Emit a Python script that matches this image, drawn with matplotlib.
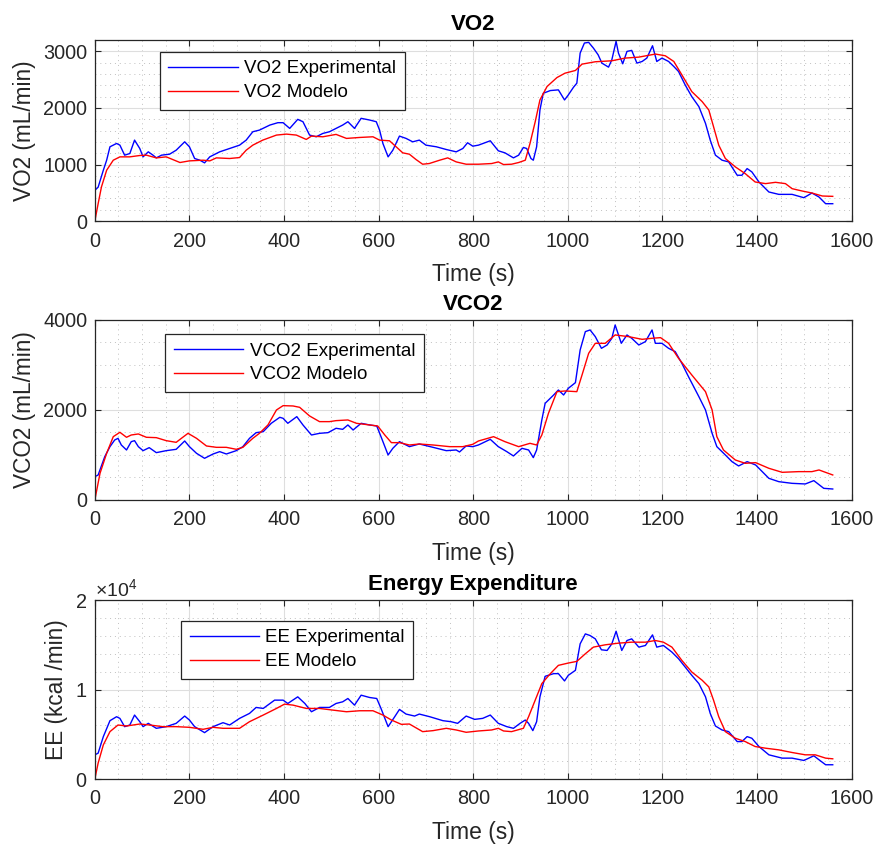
"""
VO2 / VCO2 / EE: experimental vs model, three stacked panels (MATLAB look)
"""
import matplotlib
matplotlib.use('Agg')
import matplotlib.pyplot as plt
from matplotlib.ticker import MultipleLocator, ScalarFormatter

# Dados (tempo em s)
vo2_exp_t = [0, 7, 18, 25, 32, 46, 53, 63, 74, 84, 95, 102, 113, 123, 130, 141, 158, 172, 190, 200,
             211, 222, 232, 243, 264, 285, 306, 320, 334, 348, 370, 387, 398, 412, 429, 440, 454, 468,
             482, 496, 510, 524, 535, 549, 563, 581, 595, 602, 609, 620, 630, 644, 658, 672, 686, 700,
             722, 743, 764, 778, 788, 799, 811, 836, 853, 867, 885, 896, 906, 913, 922, 927, 934, 941,
             948, 963, 980, 993, 1001, 1012, 1019, 1026, 1035, 1044, 1054, 1064, 1072, 1086, 1093,
             1102, 1107, 1116, 1125, 1135, 1146, 1157, 1167, 1179, 1188, 1199, 1213, 1224, 1234, 1248,
             1262, 1277, 1291, 1301, 1312, 1326, 1340, 1358, 1368, 1379, 1389, 1404, 1425, 1446, 1474,
             1499, 1516, 1531, 1545, 1560]
vo2_exp = [544, 600, 900, 1077, 1314, 1373, 1343, 1166, 1195, 1432, 1284, 1136, 1225, 1166, 1118, 1166,
           1183, 1254, 1402, 1314, 1107, 1077, 1030, 1136, 1225, 1284, 1343, 1432, 1580, 1609, 1698,
           1740, 1740, 1639, 1799, 1757, 1521, 1491, 1550, 1580, 1639, 1698, 1757, 1639, 1817, 1787,
           1757, 1609, 1373, 1136, 1254, 1503, 1462, 1402, 1432, 1343, 1314, 1266, 1225, 1284, 1385,
           1325, 1343, 1420, 1243, 1207, 1118, 1166, 1302, 1284, 1107, 1077, 1314, 1964, 2260, 2308,
           2320, 2142, 2231, 2367, 2438, 2970, 3148, 3160, 3059, 2940, 2793, 2722, 2852, 3178, 2970,
           2781, 3000, 3018, 2793, 2822, 2882, 3100, 2822, 2882, 2822, 2734, 2645, 2408, 2201, 2024,
           1728, 1432, 1166, 1077, 1047, 811, 811, 929, 870, 692, 515, 473, 473, 414, 497, 426, 308, 308]

vo2_mod_t = [0, 7, 14, 25, 39, 53, 74, 95, 109, 130, 151, 180, 200, 229, 243, 257, 285, 306, 320, 334,
             355, 384, 405, 426, 447, 458, 482, 510, 532, 560, 588, 602, 623, 637, 651, 665, 679, 693,
             707, 729, 746, 764, 785, 811, 839, 853, 864, 881, 896, 910, 920, 931, 941, 956, 977, 994,
             1016, 1030, 1058, 1093, 1121, 1150, 1185, 1206, 1224, 1241, 1262, 1284, 1298, 1308, 1319,
             1333, 1354, 1375, 1396, 1418, 1439, 1460, 1474, 1495, 1516, 1538, 1560]
vo2_mod = [0, 308, 604, 900, 1077, 1136, 1136, 1160, 1166, 1118, 1136, 1036, 1065, 1077, 1065, 1118,
           1107, 1124, 1254, 1343, 1432, 1521, 1538, 1521, 1444, 1503, 1491, 1533, 1462, 1479, 1491,
           1432, 1420, 1314, 1207, 1183, 1089, 1006, 1018, 1077, 1118, 1047, 1006, 1006, 1018, 1047,
           1000, 1006, 1036, 1077, 1373, 1757, 2142, 2379, 2538, 2615, 2663, 2775, 2817, 2834, 2882,
           2899, 2953, 2923, 2822, 2586, 2290, 2112, 1964, 1669, 1343, 1107, 959, 840, 692, 663, 686,
           663, 574, 533, 497, 444, 438]

vco2_exp_t = [0, 7, 21, 32, 42, 49, 56, 67, 77, 84, 92, 102, 115, 130, 151, 172, 190, 200, 215, 232,
              250, 264, 278, 299, 313, 327, 341, 356, 373, 391, 398, 408, 427, 440, 458, 475, 493, 510,
              524, 535, 546, 563, 581, 596, 605, 620, 630, 644, 665, 686, 715, 743, 764, 771, 785, 799,
              811, 836, 853, 871, 885, 903, 917, 927, 934, 945, 952, 970, 980, 991, 1001, 1016, 1026,
              1037, 1047, 1058, 1071, 1083, 1093, 1100, 1113, 1125, 1135, 1150, 1164, 1178, 1185, 1199,
              1213, 1227, 1241, 1255, 1277, 1291, 1305, 1315, 1333, 1347, 1361, 1379, 1397, 1425, 1446,
              1474, 1502, 1520, 1541, 1560]
vco2_exp = [518, 555, 963, 1185, 1333, 1370, 1222, 1111, 1296, 1318, 1185, 1096, 1163, 1052, 1096, 1126,
            1311, 1185, 1037, 926, 1022, 1074, 1022, 1096, 1185, 1370, 1496, 1518, 1704, 1837, 1815,
            1704, 1852, 1667, 1444, 1481, 1496, 1593, 1570, 1667, 1555, 1704, 1667, 1644, 1407, 1000,
            1148, 1296, 1185, 1244, 1170, 1096, 1111, 1067, 1200, 1185, 1222, 1348, 1185, 1074, 978,
            1148, 1111, 941, 1111, 1778, 2148, 2333, 2444, 2333, 2481, 2607, 3333, 3741, 3778, 3630,
            3370, 3444, 3593, 3889, 3481, 3667, 3593, 3444, 3519, 3778, 3481, 3481, 3370, 3296, 3037,
            2741, 2296, 2000, 1481, 1185, 1000, 852, 756, 852, 778, 481, 407, 370, 356, 430, 259, 244]

vco2_mod_t = [0, 11, 25, 39, 53, 67, 77, 92, 109, 130, 151, 172, 183, 197, 215, 236, 257, 278, 299, 313,
              334, 348, 366, 384, 398, 419, 433, 454, 475, 496, 510, 535, 553, 581, 598, 613, 627, 644,
              665, 686, 715, 750, 778, 799, 811, 843, 867, 896, 920, 934, 945, 959, 977, 994, 1019, 1030,
              1044, 1058, 1079, 1100, 1128, 1157, 1178, 1196, 1213, 1234, 1262, 1291, 1305, 1315, 1329,
              1354, 1375, 1397, 1425, 1453, 1488, 1516, 1531, 1560]
vco2_mod = [0, 593, 1037, 1407, 1504, 1393, 1444, 1467, 1393, 1385, 1318, 1281, 1370, 1481, 1370, 1200,
            1170, 1170, 1126, 1170, 1370, 1481, 1667, 2000, 2096, 2089, 2059, 1867, 1741, 1741, 1763,
            1778, 1704, 1667, 1644, 1444, 1274, 1274, 1222, 1244, 1222, 1185, 1185, 1237, 1311, 1407,
            1296, 1185, 1259, 1222, 1444, 1926, 2407, 2422, 2407, 2778, 3259, 3481, 3481, 3667, 3630,
            3570, 3593, 3607, 3481, 3148, 2778, 2407, 2000, 1407, 1111, 889, 815, 830, 704, 615, 630,
            630, 667, 556]

ee_exp_t = [0, 7, 18, 32, 46, 53, 63, 74, 84, 95, 102, 113, 130, 151, 172, 190, 200, 211, 232, 250, 271,
            285, 306, 327, 341, 356, 380, 398, 408, 429, 444, 458, 475, 496, 510, 524, 535, 549, 563,
            581, 596, 605, 620, 634, 644, 658, 676, 686, 708, 736, 753, 767, 785, 803, 820, 836, 853,
            871, 885, 899, 910, 917, 926, 934, 941, 952, 970, 980, 993, 1001, 1016, 1026, 1037, 1047,
            1058, 1071, 1083, 1093, 1102, 1114, 1125, 1135, 1150, 1164, 1179, 1188, 1202, 1220, 1234,
            1248, 1262, 1277, 1291, 1301, 1312, 1326, 1340, 1358, 1368, 1379, 1389, 1404, 1425, 1453,
            1474, 1499, 1520, 1531, 1545, 1560]
ee_exp = [2704, 2889, 4741, 6519, 6963, 6778, 5852, 6037, 7148, 6407, 5852, 6222, 5667, 5852, 6222,
          7037, 6593, 5852, 5185, 5852, 6296, 6037, 6778, 7333, 8000, 7889, 8815, 8815, 8444, 9185,
          8444, 7519, 8000, 8000, 8444, 8630, 9000, 8259, 9370, 9111, 9000, 7889, 5852, 6963, 7778,
          7259, 7037, 7259, 6963, 6519, 6407, 6222, 7037, 6667, 6778, 7148, 6222, 5852, 5667, 6222,
          6593, 6222, 5407, 6407, 9185, 11481, 11778, 11778, 10963, 11593, 12148, 15111, 16222, 16037,
          15667, 14444, 14370, 15111, 16519, 14370, 15481, 15667, 14741, 14926, 16111, 14741, 14926,
          14185, 13444, 12519, 11593, 10667, 9185, 7333, 5926, 5481, 5296, 4185, 4185, 4741, 4556,
          3630, 2704, 2333, 2333, 2074, 2593, 2148, 1593, 1593]

ee_mod_t = [0, 7, 18, 32, 49, 67, 95, 116, 144, 172, 200, 229, 250, 271, 306, 327, 356, 384, 401, 419,
            447, 475, 503, 532, 560, 588, 609, 627, 648, 665, 693, 715, 743, 764, 785, 811, 839, 853,
            864, 881, 906, 917, 931, 945, 963, 980, 1001, 1019, 1037, 1054, 1079, 1107, 1135, 1164,
            1185, 1202, 1220, 1241, 1262, 1284, 1298, 1308, 1319, 1333, 1354, 1375, 1396, 1418, 1446,
            1474, 1502, 1523, 1545, 1560]
ee_mod = [0, 1778, 3815, 5296, 6037, 5926, 6148, 6037, 5852, 5852, 5778, 5556, 5778, 5667, 5667, 6407,
          7148, 7889, 8370, 8259, 7889, 7889, 7704, 7519, 7630, 7630, 7148, 6593, 6111, 6148, 5296,
          5407, 5667, 5481, 5222, 5370, 5481, 5667, 5370, 5296, 5667, 6963, 8815, 10667, 11778, 12704,
          12963, 13148, 14000, 14741, 15000, 15185, 15296, 15296, 15481, 15296, 14741, 13259, 11963,
          11037, 10296, 8815, 6963, 5296, 4556, 4185, 3630, 3444, 3259, 2963, 2704, 2704, 2333, 2259]

# Estilo tipo MATLAB
DARK = '#262626'
plt.rcParams['font.family'] = ['Liberation Sans', 'DejaVu Sans']
plt.rcParams['mathtext.fontset'] = 'custom'
plt.rcParams['mathtext.rm'] = 'Liberation Sans'
plt.rcParams['axes.edgecolor'] = DARK
plt.rcParams['xtick.color'] = DARK
plt.rcParams['ytick.color'] = DARK
plt.rcParams['axes.labelcolor'] = DARK

fig = plt.figure(figsize=(8.78, 8.44), dpi=100)

panels = [
    # (pos, t_exp, exp, t_mod, mod, title, ylabel, ylim, ymajor, yminor, labels, legend anchor)
    ([0.108, 0.738, 0.862, 0.2145], vo2_exp_t, vo2_exp, vo2_mod_t, vo2_mod, 'VO2', 'VO2 (mL/min)',
     3200, 1000, 200, ('VO2 Experimental', 'VO2 Modelo'), (0.086, 0.935)),
    ([0.108, 0.4076, 0.862, 0.2133], vco2_exp_t, vco2_exp, vco2_mod_t, vco2_mod, 'VCO2',
     'VCO2 (mL/min)', 4000, 2000, 500, ('VCO2 Experimental', 'VCO2 Modelo'), (0.093, 0.922)),
    ([0.108, 0.077, 0.862, 0.212], ee_exp_t, ee_exp, ee_mod_t, ee_mod, 'Energy Expenditure',
     'EE (kcal /min)', 20000, 10000, 2000, ('EE Experimental', 'EE Modelo'), (0.114, 0.884)),
]

for pos, te, ye, tm, ym, title, ylabel, ymax, ymaj, ymin, labels, anchor in panels:
    ax = fig.add_axes(pos)
    ax.plot(te, ye, color=(0, 0, 1), lw=1.0, label=labels[0])
    ax.plot(tm, ym, color=(1, 0, 0), lw=1.0, label=labels[1])

    ax.set_xlim(0, 1600)
    ax.set_ylim(0, ymax)
    ax.xaxis.set_major_locator(MultipleLocator(200))
    ax.xaxis.set_minor_locator(MultipleLocator(50))
    ax.yaxis.set_major_locator(MultipleLocator(ymaj))
    ax.yaxis.set_minor_locator(MultipleLocator(ymin))

    # Grade principal e secundária
    ax.grid(True, which='major', color='#dedede', lw=0.8, linestyle='-')
    ax.grid(True, which='minor', color='#c0c0c0', lw=0.7, linestyle=(0, (1, 4)))
    ax.set_axisbelow(True)

    ax.tick_params(which='major', direction='in', length=4, width=0.8, top=True, right=True,
                   labelsize=14.3)
    ax.tick_params(axis='x', which='major', pad=7.5)
    ax.tick_params(axis='y', which='major', pad=5.5)
    ax.tick_params(which='minor', length=0)
    for s in ax.spines.values():
        s.set_linewidth(0.9)

    ax.set_title(title, fontsize=16, fontweight='bold', pad=7.5, color='black')
    ax.set_xlabel('Time (s)', fontsize=16.5, labelpad=9)
    ax.set_ylabel(ylabel, fontsize=16.3, labelpad=5)

    if ymax > 10000:
        fmt = ScalarFormatter(useMathText=True)
        fmt.set_powerlimits((0, 0))
        ax.yaxis.set_major_formatter(fmt)
        ax.yaxis.get_offset_text().set_fontsize(14)

    leg = ax.legend(loc='upper left', bbox_to_anchor=anchor, fontsize=13.5, handlelength=3.7,
                    handletextpad=0.35, borderpad=0.45, labelspacing=0.35, fancybox=False,
                    framealpha=1, edgecolor=DARK, borderaxespad=0)
    leg.get_frame().set_linewidth(0.9)

fig.savefig('out.png', dpi=100)
